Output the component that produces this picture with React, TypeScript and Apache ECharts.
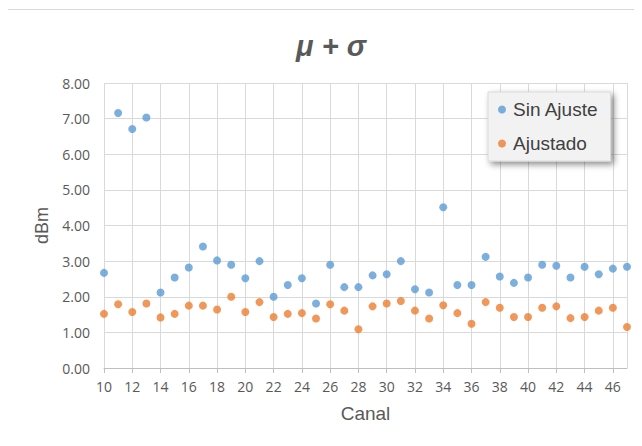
import React, { useEffect, useRef } from "react";
import * as echarts from "echarts";

const canales = [10, 11, 12, 13, 14, 15, 16, 17, 18, 19, 20, 21, 22, 23, 24, 25, 26, 27, 28, 29, 30, 31, 32, 33, 34, 35, 36, 37, 38, 39, 40, 41, 42, 43, 44, 45, 46, 47];
const sinAjuste = [2.67, 7.16, 6.71, 7.03, 2.12, 2.54, 2.82, 3.41, 3.02, 2.90, 2.52, 3.00, 2.00, 2.33, 2.52, 1.81, 2.90, 2.27, 2.27, 2.60, 2.63, 3.00, 2.21, 2.12, 4.51, 2.33, 2.33, 3.12, 2.57, 2.39, 2.54, 2.90, 2.87, 2.54, 2.84, 2.63, 2.79, 2.84];
const ajustado = [1.52, 1.79, 1.57, 1.81, 1.42, 1.52, 1.75, 1.75, 1.64, 2.00, 1.57, 1.85, 1.43, 1.52, 1.54, 1.39, 1.79, 1.61, 1.09, 1.73, 1.81, 1.88, 1.61, 1.39, 1.76, 1.54, 1.24, 1.85, 1.69, 1.43, 1.43, 1.69, 1.73, 1.40, 1.43, 1.61, 1.69, 1.15];
const seriesNames = ["Sin Ajuste", "Ajustado"];
const titleText = "μ + σ";

const FONT = "'Liberation Sans', Arial, sans-serif";
const NUMFONT = "'Open Sans', 'Liberation Sans', sans-serif";

export default function App() {
  const ref = useRef<HTMLDivElement>(null);
  useEffect(() => {
    if (!ref.current) return;
    const chart = echarts.init(ref.current, undefined, { renderer: "svg" });
    chart.setOption({
      animation: false,
      backgroundColor: "#ffffff",
      graphic: [
        {
          type: "rect",
          shape: { x: -0.5, y: 1.5, width: 700, height: 500 },
          style: { fill: "none", stroke: "#d9d9d9", lineWidth: 1 },
          z: -1,
        },
        {
          type: "text",
          x: 323,
          y: 38,
          style: {
            text: titleText,
            fontFamily: FONT,
            fontSize: 29,
            fontWeight: "bold",
            fontStyle: "italic",
            fill: "#595959",
            textAlign: "center",
            textVerticalAlign: "middle",
          },
        },
      ],
      legend: {
        data: seriesNames,
        orient: "vertical",
        left: 480,
        top: 84,
        padding: [8, 12, 8, 10],
        itemGap: 15,
        icon: "circle",
        itemWidth: 8,
        itemHeight: 8,
        backgroundColor: "#f2f2f2",
        borderColor: "#d9d9d9",
        borderWidth: 1,
        shadowColor: "rgba(0,0,0,0.45)",
        shadowBlur: 6,
        shadowOffsetX: 3,
        shadowOffsetY: 3,
        textStyle: { fontFamily: FONT, fontSize: 19, color: "#404040", padding: [0, 0, 0, 2] },
      },
      grid: { left: 96, right: 15, top: 75, bottom: 78 },
      xAxis: {
        type: "value",
        min: 10,
        max: 47,
        interval: 2,
        name: "Canal",
        nameLocation: "middle",
        nameGap: 36,
        nameTextStyle: { fontFamily: FONT, fontSize: 19, color: "#595959" },
        axisLine: { show: true, lineStyle: { color: "#bfbfbf" } },
        axisTick: { show: true, length: 5, lineStyle: { color: "#bfbfbf" } },
        axisLabel: { fontFamily: NUMFONT, fontSize: 14, color: "#595959", margin: 11, showMaxLabel: false },
        splitLine: { show: true, lineStyle: { color: "#d9d9d9" } },
      },
      yAxis: {
        type: "value",
        min: 0,
        max: 8,
        interval: 1,
        name: "dBm",
        nameLocation: "middle",
        nameGap: 50,
        nameTextStyle: { fontFamily: FONT, fontSize: 18, color: "#595959" },
        axisLine: { show: false },
        axisTick: { show: false },
        axisLabel: { fontFamily: NUMFONT, fontSize: 14, color: "#595959", margin: 14, formatter: (v: number) => v.toFixed(2) },
        splitLine: { show: true, lineStyle: { color: "#d9d9d9" } },
      },
      series: [
        {
          name: seriesNames[0],
          type: "scatter",
          symbol: "circle",
          symbolSize: 8,
          itemStyle: { color: "#5b9bd5" },
          data: canales.map((c, i) => [c, sinAjuste[i]]),
        },
        {
          name: seriesNames[1],
          type: "scatter",
          symbol: "circle",
          symbolSize: 8,
          itemStyle: { color: "#ed7d31" },
          data: canales.map((c, i) => [c, ajustado[i]]),
        },
      ],
    });
    return () => chart.dispose();
  }, []);
  return <div ref={ref} style={{ width: 634, height: 438 }} />;
}
